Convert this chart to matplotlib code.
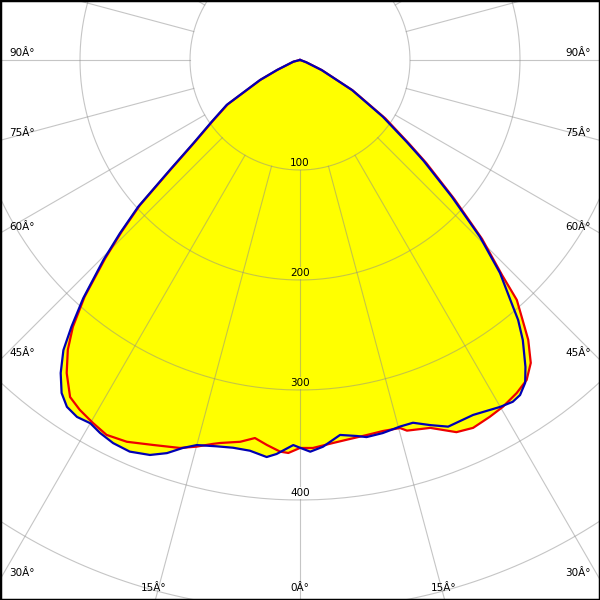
import numpy as np
import matplotlib
matplotlib.use('Agg')
from matplotlib import pyplot as plt

# luminous intensity (cd), angle in degrees from nadir (left side negative)
red_ang = [-90, -80, -75.8, -66.5, -63.4, -58.5, -55.05, -52.0, -49.8, -47.8, -46.1, -44.5, -42.3, -40.4,
           -38.7, -36.7, -34.3, -32.2, -29.7, -27.3, -24.4, -20.9, -17.2, -15.0, -12.8, -11.8, -8.9,
           -6.8, -4.9, -2.9, -1.7, 0, 1.9, 4.9, 7.5, 10.1, 12.6, 15.2, 16.1, 19.5, 22.8, 25.2, 28.0,
           30.3, 33.05, 35.3, 37.3, 39.2, 40.8, 42.1, 43.2, 45.5, 48.0, 50.8, 52.5, 55.6, 60.0, 65.1, 70, 75, 90]
red_cd = [0, 0.5, 6, 22, 40, 77, 96.8, 121.8, 153.3, 196.5, 225, 252.5, 291, 318.6,
          337.6, 354.9, 370.9, 375.8, 379.9, 383.5, 381.1, 374.6, 369.2, 363.9, 357.9, 355.7, 351.3,
          346.1, 351.3, 356.5, 357.4, 352.7, 352.9, 349.5, 347.5, 346.3, 345.6, 346.7, 350.7, 354.8, 367.0, 369.6, 367.4,
          365.3, 361.2, 356.5, 346.2, 328.3, 308.4, 294.0, 268.5, 232, 188.5, 148, 125, 94, 55.5, 22, 6, 1, 0]

blue_ang = [-90, -80, -75.8, -66.5, -63.4, -58.5, -55.05, -52.0, -49.8, -47.8, -46.1, -44.5, -42.3, -40.6,
            -39.2, -37.4, -35.6, -33.9, -32.0, -30.0, -28.2, -26.0, -23.5, -20.8, -18.7, -16.8, -15.0,
            -12.2, -9.8, -7.3, -4.8, -3.4, -1.0, 0, 1.5, 3.4, 6.1, 8.6, 10.0, 12.5, 15.3, 17.3, 19.6,
            22.0, 26.0, 30.0, 31.9, 33.3, 34.9, 36.3, 38.5, 40.0, 40.8, 43.2, 45.5, 48.0, 50.8, 52.5, 55.6,
            60.0, 65.1, 70, 75, 90]
blue_cd = [0, 0.5, 6.3, 22.8, 40.7, 78.2, 97.9, 123.1, 154.8, 198.5, 227.2, 255.0, 292.8, 319.2,
           340.3, 358.2, 372.3, 379.9, 382.6, 381.3, 384.7, 387.5, 388.2, 384.1, 377.3, 368.4, 362.4,
           359.3, 357.7, 358.1, 362.2, 358.8, 350.1, 352.5, 356.2, 352.2, 342.8, 345.7, 348.1, 347.4, 345.4, 345.4, 352.3,
           359.5, 359.0, 364.1, 366.0, 364.4, 357.8, 346.2, 325.4, 308.5, 296.3, 265.6, 229.3, 185.6, 145, 122, 91.2,
           54.6, 21.6, 6, 1, 0]

ring_values = [100, 200, 300, 400, 500]
ring_labels = ['100', '200', '300', '400']

PX = 1.1  # pixels per cd


def to_xy(ang, cd):
    t = np.radians(np.asarray(ang, dtype=float))
    r = np.asarray(cd, dtype=float)
    return r * np.sin(t), -r * np.cos(t)


fig = plt.figure(figsize=(6, 6), dpi=100)
ax = fig.add_axes([0, 0, 1, 1])
ax.set_xlim(-300 / PX, 300 / PX)
ax.set_ylim(-540 / PX, 60 / PX)
ax.set_xticks([])
ax.set_yticks([])
for s in ax.spines.values():
    s.set_color('black')
    s.set_linewidth(2.5)

rx, ry = to_xy(red_ang, red_cd)
bx, by = to_xy(blue_ang, blue_cd)
ax.fill(rx, ry, color='#ffff00', lw=0, zorder=1)
ax.fill(bx, by, color='#ffff00', lw=0, zorder=1)

# grid
gc = '#8c8c8c'
t = np.linspace(0, 2 * np.pi, 400)
for r in ring_values:
    ax.plot(r * np.sin(t), r * np.cos(t), color=gc, lw=0.8, alpha=0.5, zorder=2)
for a in range(0, 360, 15):
    x, y = to_xy([a, a], [100, 800])
    ax.plot(x, y, color=gc, lw=0.8, alpha=0.5, zorder=2)

ax.plot(rx, ry, color='#ee0000', lw=1.6, zorder=3)
ax.plot(bx, by, color='#0000b4', lw=1.6, zorder=4)

for v, lab in zip(ring_values, ring_labels):
    bg = '#ffff00' if v < 350 else 'white'
    ax.text(0, -(v - 6.5), lab, ha='center', va='center', fontsize=7.5, zorder=5,
            bbox=dict(facecolor=bg, edgecolor='none', pad=0.5))

# angle labels along the border (pixel positions)
side_y = {'90Â°': 53, '75Â°': 133, '60Â°': 227, '45Â°': 353, '30Â°': 573}
for lab, y in side_y.items():
    fig.text(9 / 600, 1 - y / 600, lab, ha='left', va='center', fontsize=7.5)
    fig.text(591 / 600, 1 - y / 600, lab, ha='right', va='center', fontsize=7.5)
for lab, x in [('15Â°', 154), ('0Â°', 300), ('15Â°', 444)]:
    fig.text(x / 600, 1 - 588 / 600, lab, ha='center', va='center', fontsize=7.5)

fig.savefig('out.png', dpi=100)
